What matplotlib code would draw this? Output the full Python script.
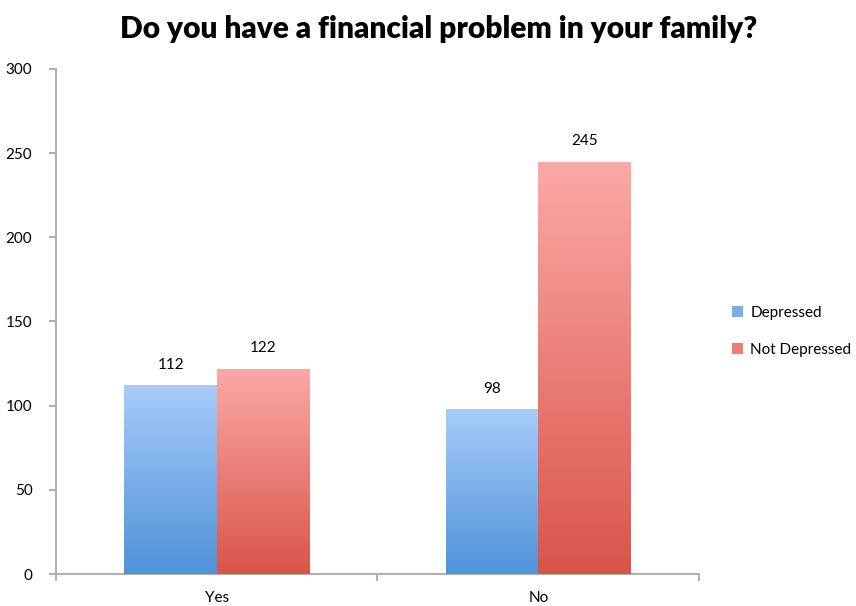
"""
Grouped bar chart: financial problems in the family vs depression
"""

import numpy as np
import matplotlib
matplotlib.use("Agg")
import matplotlib.pyplot as plt
from matplotlib.colors import LinearSegmentedColormap

# Survey counts per answer
categories = ["Yes", "No"]
series_names = ["Depressed", "Not Depressed"]
depressed = [112, 98]
not_depressed = [122, 245]

plt.rcParams['font.family'] = ['Lato', 'DejaVu Sans']

# gradient colours (bottom -> top) for each series
blue_grad = LinearSegmentedColormap.from_list("blue_grad", ["#4f93d8", "#a8cbfa"])
red_grad = LinearSegmentedColormap.from_list("red_grad", ["#d9544a", "#fca9a6"])

fig = plt.figure(figsize=(8.56, 6.06), dpi=100)
ax = fig.add_axes([0.0654, 0.0528, 0.7512, 0.8334])

x = np.arange(len(categories))
width = 0.287
ymax = 300


def gradient_bars(ax, xs, heights, cmap, label):
    bars = ax.bar(xs, heights, width, color=cmap(0.5), label=label, zorder=2)
    grad = np.linspace(0, 1, 256).reshape(-1, 1)
    for bar in bars:
        bx = bar.get_x()
        bw, bh = bar.get_width(), bar.get_height()
        # each bar fades from dark at the base to light at its top
        im = ax.imshow(grad, cmap=cmap, origin="lower", aspect="auto",
                       extent=[bx, bx + bw, 0, bh],
                       vmin=0, vmax=1, zorder=3)
        im.set_clip_path(bar)
        ax.text(bx + bw / 2, bh + 8, str(int(bh)), ha="center", va="bottom",
                fontsize=11, color="black", zorder=4)
    return bars


gradient_bars(ax, x - width / 2, depressed, blue_grad, series_names[0])
gradient_bars(ax, x + width / 2, not_depressed, red_grad, series_names[1])

ax.set_xlim(-0.5, 1.5)
ax.set_ylim(0, ymax)
ax.set_yticks(np.arange(0, 301, 50))
ax.tick_params(axis="y", labelsize=11, length=5, color="#b0b0b0", width=1.5, pad=12)

# category labels centred, tick marks at group boundaries
ax.set_xticks([-0.5, 0.5, 1.5])
ax.set_xticklabels([])
ax.set_xticks(x, minor=True)
ax.set_xticklabels(categories, minor=True, fontsize=11)
ax.tick_params(axis="x", which="major", length=5, color="#b0b0b0", width=1.5)
ax.tick_params(axis="x", which="minor", length=0, pad=12)

for side in ["top", "right"]:
    ax.spines[side].set_visible(False)
for side in ["left", "bottom"]:
    ax.spines[side].set_color("#b0b0b0")
    ax.spines[side].set_linewidth(1.5)

fig.suptitle("Do you have a financial problem in your family?", x=0.512, y=0.976,
             fontsize=21.5, fontweight="heavy")

leg = ax.legend(loc="center left", bbox_to_anchor=(1.03, 0.48), frameon=False,
                fontsize=11, handlelength=0.7, handleheight=0.7,
                handletextpad=0.5, labelspacing=1.5)

fig.savefig("out.png", dpi=100)
